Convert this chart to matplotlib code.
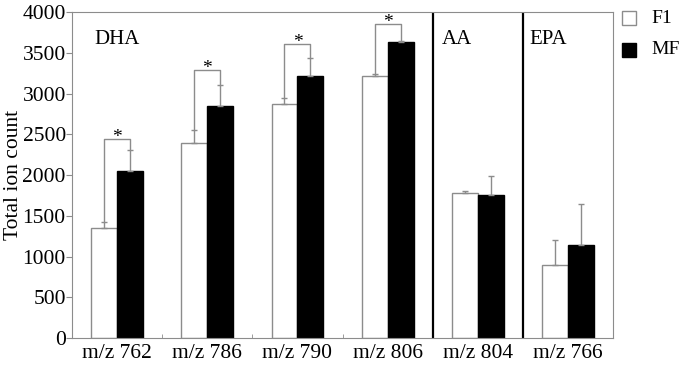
import matplotlib.pyplot as plt
from matplotlib.lines import Line2D

plt.rcParams['font.family'] = ['Liberation Serif', 'DejaVu Serif']

labels = ['m/z 762', 'm/z 786', 'm/z 790', 'm/z 806', 'm/z 804', 'm/z 766']
f1 = [1349, 2389, 2880, 3212, 1779, 901]
f1_err = [81, 168, 66, 33, 24, 307]
mf = [2057, 2852, 3224, 3630, 1758, 1147]
mf_err = [254, 258, 209, 21, 233, 504]
bracket_h = [2446, 3294, 3610, 3860]
classes = ['DHA', 'AA', 'EPA']
class_x = [0.25, 4.1, 5.07]

gray = '#8c8c8c'
w = 0.288
centers = [i + 0.5 for i in range(len(labels))]
x1 = [c - w / 2 for c in centers]
x2 = [c + w / 2 for c in centers]

fig = plt.figure(figsize=(6.82, 3.69), dpi=100)
ax = fig.add_axes([0.1056, 0.084, 0.7934, 0.8826])

ax.bar(x1, f1, width=w, color='white', edgecolor=gray, linewidth=1)
ax.bar(x2, mf, width=w, color='black', edgecolor='black', linewidth=1)
ax.errorbar(x1, f1, yerr=[[0] * 6, f1_err], fmt='none', ecolor=gray,
            elinewidth=1, capsize=2)
ax.errorbar(x2, mf, yerr=[[0] * 6, mf_err], fmt='none', ecolor=gray,
            elinewidth=1, capsize=2)

# significance brackets
for i, h in enumerate(bracket_h):
    ax.plot([x1[i], x1[i], x2[i], x2[i]],
            [f1[i] + f1_err[i], h, h, mf[i] + mf_err[i]],
            color=gray, lw=1)
    ax.text(centers[i], h - 40, '*', ha='center', va='baseline', fontsize=14)

# group separators
for xs in [4, 5]:
    ax.plot([xs, xs], [0, 4000], color='black', lw=1.6)

for name, xc in zip(classes, class_x):
    ax.text(xc, 3780, name, ha='left', va='top', fontsize=15)

ax.set_xlim(0, 6)
ax.set_ylim(0, 4000)
ax.set_xticks(centers)
ax.set_xticklabels(labels, fontsize=15.5)
ax.set_xticks([1, 2, 3, 4, 5], minor=True)
ax.tick_params(axis='x', which='major', length=0, pad=4)
ax.tick_params(axis='x', which='minor', direction='in', length=3, color=gray)
ax.set_yticks(range(0, 4001, 500))
ax.tick_params(axis='y', labelsize=15.5, length=4, color=gray, pad=0.5)
ax.set_ylabel('Total ion count', fontsize=15.5)
ax.yaxis.set_label_coords(-0.09, 0.5)
for s in ax.spines.values():
    s.set_color(gray)

# legend outside the axes on the right
leg_y = [0.951, 0.8645]
leg_face = ['white', 'black']
leg_edge = [gray, 'black']
for name, yy, fc, ec in zip(['F1', 'MF'], leg_y, leg_face, leg_edge):
    fig.add_artist(Line2D([0.923], [yy], transform=fig.transFigure, ls='none',
                          marker='s', markersize=9.5, markerfacecolor=fc,
                          markeredgecolor=ec))
    fig.text(0.955, yy, name, ha='left', va='center', fontsize=14)

fig.savefig('out.png', dpi=100)
